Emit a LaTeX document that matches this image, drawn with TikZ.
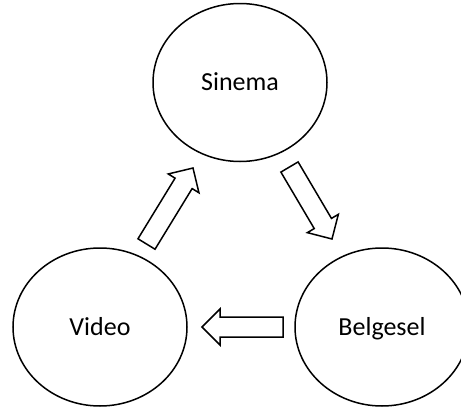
\documentclass[tikz,border=0pt]{standalone}
\usepackage{fontspec}
\setmainfont{Carlito}
\usetikzlibrary{shapes.geometric,calc}
\tikzset{
  circ/.style={ellipse, draw, line width=1.5pt, minimum width=174pt, minimum height=158pt,
    inner sep=0pt, font=\fontsize{26}{30}\selectfont, text height=16.7pt, text depth=0pt},
  barrow/.style={draw, line width=1.5pt, line join=miter}
}
\newcommand\myblockarr[2]{%
  \pgfpointdiff{\pgfpointanchor{#1}{center}}{\pgfpointanchor{#2}{center}}%
  \pgfgetlastxy{\baDx}{\baDy}%
  \pgfmathsetmacro\baAng{atan2(\baDy,\baDx)}%
  \pgfmathsetmacro\baLen{veclen(\baDx,\baDy)}%
  \begin{scope}[shift={(#1)}, rotate=\baAng]
    \draw[barrow] (0,-10) -- (\baLen-18,-10) -- (\baLen-18,-18) -- (\baLen,0)
      -- (\baLen-18,18) -- (\baLen-18,10) -- (0,10) -- cycle;
  \end{scope}}
\begin{document}
\begin{tikzpicture}[x=1pt, y=-1pt]
  \useasboundingbox (0,0) rectangle (461,410);
  \node[circ] (sinema) at (240,82.5) {Sinema};
  \node[circ] (video) at (100,327) {Video};
  \node[circ] (belgesel) at (382,327) {Belgesel};
  \coordinate (a1s) at (146.5,244);
  \coordinate (a1e) at (193,168);
  \coordinate (a2s) at (289.5,167);
  \coordinate (a2e) at (332,239);
  \coordinate (a3s) at (283,327);
  \coordinate (a3e) at (202,327);
  \myblockarr{a1s}{a1e}
  \myblockarr{a2s}{a2e}
  \myblockarr{a3s}{a3e}
\end{tikzpicture}
\end{document}
